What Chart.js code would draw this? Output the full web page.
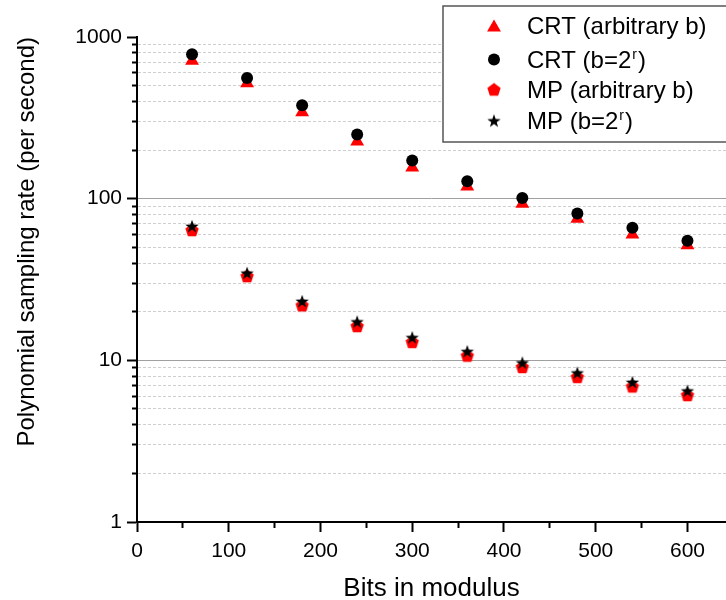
<!DOCTYPE html>
<html>
<head>
<meta charset="utf-8">
<script src="https://cdn.jsdelivr.net/npm/chart.js@4/dist/chart.umd.min.js"></script>
<style>
  body { margin: 0; background: #fff; }
  #wrap { width: 726px; height: 600px; }
</style>
</head>
<body>
<div id="wrap"><canvas id="rateChart" width="726" height="600"></canvas></div>
<script>
// bits in modulus
var bits = [60, 120, 180, 240, 300, 360, 420, 480, 540, 600];
// sampling rate, per second
var crtArbitrary = [712, 518, 342, 226, 156, 119, 93, 75, 60, 51.5];
var crtPow2 = [783, 557, 378, 249, 172, 128, 101, 81, 66, 55];
var mpArbitrary = [64, 33.2, 21.9, 16.3, 13.0, 10.7, 9.1, 7.9, 6.9, 6.1];
var mpPow2 = [67.8, 34.8, 23.3, 17.4, 13.9, 11.4, 9.7, 8.4, 7.35, 6.5];

// axis ticks
var xTickValues = [0, 50, 100, 150, 200, 250, 300, 350, 400, 450, 500, 550, 600];
var xLabelValues = [0, 100, 200, 300, 400, 500, 600];
var yDecades = [1, 10, 100, 1000];
var yGridSolid = [10, 100];

var yTickValues = [];
for (var d = 0; d < yDecades.length - 1; d++) {
    for (var m = 1; m < 10; m++) yTickValues.push(yDecades[d] * m);
}
yTickValues.push(yDecades[yDecades.length - 1]);

var FONT = "'Liberation Sans', Arial, sans-serif";
Chart.defaults.font.family = FONT;
Chart.defaults.color = '#000';

function makeMarker(size, drawFn) {
    var c = document.createElement('canvas');
    c.width = size; c.height = size;
    var g = c.getContext('2d');
    drawFn(g, size / 2);
    return c;
}

var pentagon = makeMarker(16, function (g, h) {
    g.fillStyle = '#ff0000';
    g.beginPath();
    for (var k = 0; k < 5; k++) {
        var a = -Math.PI / 2 + k * 2 * Math.PI / 5;
        var px = h + Math.cos(a) * 7, py = h + 0.6 + Math.sin(a) * 7;
        if (k === 0) g.moveTo(px, py); else g.lineTo(px, py);
    }
    g.closePath();
    g.fill();
});

var star = makeMarker(16, function (g, h) {
    g.fillStyle = '#000';
    g.beginPath();
    for (var k = 0; k < 10; k++) {
        var a = -Math.PI / 2 + k * Math.PI / 5;
        var r = (k % 2 === 0) ? 7 : 2.8;
        var px = h + Math.cos(a) * r, py = h + 0.8 + Math.sin(a) * r;
        if (k === 0) g.moveTo(px, py); else g.lineTo(px, py);
    }
    g.closePath();
    g.fill();
});

function toPoints(ys) {
    return bits.map(function (b, i) { return {x: b, y: ys[i]}; });
}

// legend drawn inside the plot, with superscript r
var legendRows = [
    {ds: 0, text: 'CRT (arbitrary b)', baseline: 34},
    {ds: 1, text: 'CRT (b=2', sup: 'r', after: ')', baseline: 68},
    {ds: 2, text: 'MP (arbitrary b)', baseline: 98},
    {ds: 3, text: 'MP (b=2', sup: 'r', after: ')', baseline: 129}
];

var boxLegend = {
    id: 'boxLegend',
    afterDraw: function (chart) {
        var c = chart.ctx;
        c.save();
        c.strokeStyle = '#555';
        c.lineWidth = 1.5;
        c.fillStyle = '#fff';
        c.fillRect(443, 6, 290, 136);
        c.strokeRect(443, 6, 290, 136);
        legendRows.forEach(function (row) {
            var ds = chart.data.datasets[row.ds];
            var my = row.baseline - 8.5 + (ds.pointStyle === 'triangle' ? 2 : 0);
            c.fillStyle = ds.backgroundColor;
            Chart.helpers.drawPoint(c, {pointStyle: ds.pointStyle, radius: ds.pointRadius, rotation: 0, borderWidth: 0}, 494, my);
            c.fillStyle = '#000';
            c.textBaseline = 'alphabetic';
            c.textAlign = 'left';
            c.font = '24px ' + FONT;
            c.fillText(row.text, 527, row.baseline);
            if (row.sup) {
                var w = c.measureText(row.text).width;
                c.font = '14px ' + FONT;
                c.fillText(row.sup, 527 + w + 1, row.baseline - 9);
                var ws = c.measureText(row.sup).width;
                c.font = '24px ' + FONT;
                c.fillText(row.after, 527 + w + ws + 2, row.baseline);
            }
        });
        c.restore();
    }
};

var ctx = document.getElementById('rateChart');
var rateChart = new Chart(ctx, {
    type: 'scatter',
    data: {
        datasets: [{
            label: 'CRT (arbitrary b)',
            data: toPoints(crtArbitrary),
            pointStyle: 'triangle',
            pointRadius: 8,
            backgroundColor: '#ff0000',
            borderWidth: 0,
            order: 2
        }, {
            label: 'CRT (b=2r)',
            data: toPoints(crtPow2),
            pointStyle: 'circle',
            pointRadius: 6,
            backgroundColor: '#000000',
            borderWidth: 0,
            order: 1
        }, {
            label: 'MP (arbitrary b)',
            data: toPoints(mpArbitrary),
            pointStyle: pentagon,
            pointRadius: 7,
            backgroundColor: '#ff0000',
            borderWidth: 0,
            order: 2
        }, {
            label: 'MP (b=2r)',
            data: toPoints(mpPow2),
            pointStyle: star,
            pointRadius: 7,
            backgroundColor: '#000000',
            borderWidth: 0,
            order: 1
        }]
    },
    options: {
        responsive: false,
        animation: false,
        layout: { autoPadding: false, padding: { top: 37, right: 0, bottom: 0, left: 0 } },
        plugins: {
            legend: { display: false },
            tooltip: { enabled: false }
        },
        scales: {
            x: {
                type: 'linear',
                min: 0,
                max: 642,
                afterBuildTicks: function (s) {
                    s.ticks = xTickValues.map(function (v) { return {value: v}; });
                },
                afterFit: function (s) {
                    s.height = 78;
                    s.paddingLeft = 0;
                    s.paddingRight = 0;
                },
                ticks: {
                    autoSkip: false,
                    maxRotation: 0,
                    padding: 7,
                    font: { size: 21 },
                    callback: function (v) { return xLabelValues.indexOf(v) >= 0 ? String(v) : ''; }
                },
                grid: {
                    drawOnChartArea: false,
                    drawTicks: true,
                    tickLength: 10,
                    tickWidth: 2,
                    tickColor: '#000',
                    tickBorderDash: function (c) {
                        return (c.tick && xLabelValues.indexOf(c.tick.value) < 0) ? [5, 20] : [];
                    }
                },
                border: { display: true, color: '#000', width: 2 },
                title: {
                    display: true,
                    text: 'Bits in modulus',
                    font: { size: 26, lineHeight: 1.0 },
                    padding: { top: 0, bottom: -2 }
                }
            },
            y: {
                type: 'logarithmic',
                position: 'left',
                min: 1,
                max: 1000,
                afterBuildTicks: function (s) {
                    s.ticks = yTickValues.map(function (v) { return {value: v}; });
                },
                afterFit: function (s) { s.width = 137; },
                ticks: {
                    autoSkip: false,
                    padding: 5,
                    font: { size: 21 },
                    callback: function (v) { return yDecades.indexOf(v) >= 0 ? String(v) : ''; }
                },
                grid: {
                    drawTicks: true,
                    tickLength: 10,
                    tickWidth: 2,
                    tickColor: '#000',
                    lineWidth: 1,
                    color: function (c) {
                        return (c.tick && yDecades.indexOf(c.tick.value) < 0) ? '#cfcfcf' : 'rgba(0,0,0,0)';
                    },
                    tickBorderDash: function (c) {
                        return (c.tick && yDecades.indexOf(c.tick.value) < 0) ? [0, 5, 20] : [];
                    }
                },
                border: { display: true, color: '#000', width: 2, dash: [3, 2] },
                title: {
                    display: true,
                    text: 'Polynomial sampling rate (per second)',
                    align: 'end',
                    font: { size: 24 },
                    padding: { top: 13, bottom: 0 }
                }
            },
            yMajor: {
                type: 'logarithmic',
                position: 'right',
                min: 1,
                max: 1000,
                afterBuildTicks: function (s) {
                    s.ticks = yDecades.map(function (v) { return {value: v}; });
                },
                afterFit: function (s) { s.width = 0; },
                ticks: { display: false },
                grid: {
                    drawTicks: false,
                    lineWidth: 1,
                    color: function (c) {
                        return (c.tick && yGridSolid.indexOf(c.tick.value) >= 0) ? '#a0a0a0' : 'rgba(0,0,0,0)';
                    }
                },
                border: { display: false }
            }
        }
    },
    plugins: [boxLegend]
});
</script>
</body>
</html>
